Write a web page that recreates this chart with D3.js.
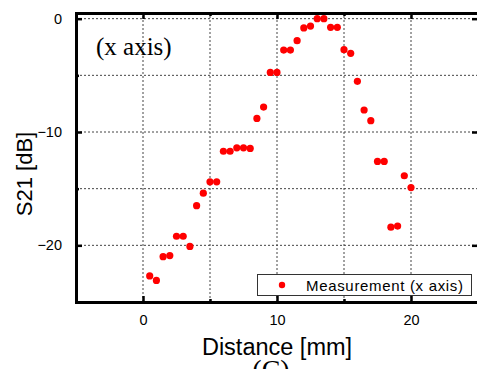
<!DOCTYPE html>
<html>
<head>
<meta charset="utf-8">
<script src="https://cdn.jsdelivr.net/npm/d3@7"></script>
<style>
  html, body { margin: 0; padding: 0; background: white; }
  svg { display: block; }
</style>
</head>
<body>
<script>
// data
var distance = [0.5, 1, 1.5, 2, 2.5, 3, 3.5, 4, 4.5, 5,
                5.5, 6, 6.5, 7, 7.5, 8, 8.5, 9, 9.5, 10,
                10.5, 11, 11.5, 12, 12.5, 13, 13.5, 14, 14.5, 15,
                15.5, 16, 16.5, 17, 17.5, 18, 18.5, 19, 19.5, 20];
var s21 = [-22.7, -23.1, -21.0, -20.9, -19.2, -19.2, -20.1, -16.5, -15.4, -14.4,
           -14.4, -11.7, -11.7, -11.4, -11.4, -11.45, -8.8, -7.8, -4.74, -4.74,
           -2.77, -2.77, -1.94, -0.82, -0.65, 0, 0, -0.76, -0.76, -2.74,
           -3.06, -5.53, -8.06, -9.0, -12.6, -12.6, -18.4, -18.3, -13.86, -14.9];
var xMajor = [0, 10, 20];
var xMinor = [-5, 5, 15, 25];
var yMajor = [0, -10, -20];
var yMinor = [-5, -15, -25];
var xGrid = [0, 5, 10, 15, 20];
var yGrid = [0, -5, -10, -15, -20];

var dot_color, axis_color, grid_color;

function graphConfig()
{
    /// CONFIG VARIABLES ///
    dot_color = "#ff0000";
    axis_color = "black";
    grid_color = "#444";
    //// END OF CONFIG ////
}

function createGraph()
{
    var svgWidth = 477, svgHeight = 369;
    var svg = d3.select("body").append("svg")
        .attr("width", svgWidth)
        .attr("height", svgHeight);

    var x = d3.scaleLinear().domain([-5, 25]).range([76, 478]);
    var y = d3.scaleLinear().domain([-25, 0.5]).range([302, 13]);

    // dotted grid
    svg.append("g").selectAll("line").data(xGrid).enter().append("line")
        .attr("x1", function (d) { return x(d); })
        .attr("x2", function (d) { return x(d); })
        .attr("y1", y(-25)).attr("y2", y(0.5))
        .attr("stroke", grid_color)
        .attr("stroke-width", 1)
        .attr("stroke-dasharray", "2,2");
    svg.append("g").selectAll("line").data(yGrid).enter().append("line")
        .attr("y1", function (d) { return y(d); })
        .attr("y2", function (d) { return y(d); })
        .attr("x1", x(-5)).attr("x2", x(25))
        .attr("stroke", grid_color)
        .attr("stroke-width", 1)
        .attr("stroke-dasharray", "2,2");

    // axes, ticks point inward
    var bottom = svg.append("g")
        .attr("transform", "translate(0," + y(-25) + ")")
        .call(d3.axisBottom(x).tickValues(xMajor).tickSize(-6).tickPadding(14).tickFormat(d3.format("d")));
    svg.append("g")
        .attr("transform", "translate(0," + y(-25) + ")")
        .call(d3.axisBottom(x).tickValues(xMinor).tickSize(-3).tickFormat(""));
    svg.append("g")
        .attr("transform", "translate(0," + y(0.5) + ")")
        .call(d3.axisTop(x).tickValues(xMajor).tickSize(-6).tickFormat(""));
    svg.append("g")
        .attr("transform", "translate(0," + y(0.5) + ")")
        .call(d3.axisTop(x).tickValues(xMinor).tickSize(-3).tickFormat(""));
    var left = svg.append("g")
        .attr("transform", "translate(" + x(-5) + ",0)")
        .call(d3.axisLeft(y).tickValues(yMajor).tickSize(-6).tickPadding(14).tickFormat(d3.format("d")));
    svg.append("g")
        .attr("transform", "translate(" + x(-5) + ",0)")
        .call(d3.axisLeft(y).tickValues(yMinor).tickSize(-3).tickFormat(""));
    svg.append("g")
        .attr("transform", "translate(" + x(25) + ",0)")
        .call(d3.axisRight(y).tickValues(yMajor).tickSize(-6).tickFormat(""));

    svg.selectAll(".domain").attr("stroke", axis_color).attr("stroke-width", 3);
    svg.selectAll(".tick line").attr("stroke", axis_color).attr("stroke-width", 2.5);
    svg.selectAll(".tick text")
        .attr("fill", "black")
        .style("font-family", "Liberation Sans, Arial, sans-serif")
        .style("font-size", "14.5px");
    bottom.selectAll(".tick text").attr("dy", "0.6em");

    // points
    var pts = distance.map(function (d, i) { return {x: d, y: s21[i]}; });
    svg.append("g").selectAll("circle").data(pts).enter().append("circle")
        .attr("cx", function (d) { return x(d.x); })
        .attr("cy", function (d) { return y(d.y); })
        .attr("r", 3.6)
        .attr("fill", dot_color);

    // annotation
    svg.append("text")
        .attr("x", 96).attr("y", 55)
        .style("font-family", "Liberation Serif, Times New Roman, serif")
        .style("font-size", "25px")
        .text("(x axis)");

    // legend
    var lg = svg.append("g");
    lg.append("rect")
        .attr("x", 257.5).attr("y", 274.5)
        .attr("width", 214).attr("height", 21)
        .attr("fill", "white")
        .attr("stroke", "#333")
        .attr("stroke-width", 1);
    lg.append("circle")
        .attr("cx", 282).attr("cy", 285)
        .attr("r", 3.2)
        .attr("fill", dot_color);
    lg.append("text")
        .attr("x", 306).attr("y", 290.5)
        .style("font-family", "Liberation Sans, Arial, sans-serif")
        .style("font-size", "15px")
        .attr("textLength", 157)
        .text("Measurement (x axis)");

    // axis titles
    svg.append("text")
        .attr("x", 277).attr("y", 355)
        .attr("text-anchor", "middle")
        .style("font-family", "Liberation Sans, Arial, sans-serif")
        .style("font-size", "23.5px")
        .text("Distance [mm]");
    svg.append("text")
        .attr("transform", "translate(32,174) rotate(-90)")
        .attr("text-anchor", "middle")
        .style("font-family", "Liberation Sans, Arial, sans-serif")
        .style("font-size", "22px")
        .text("S21 [dB]");

    // panel label, cut off at the bottom like the source
    svg.append("text")
        .attr("x", 271).attr("y", 379)
        .attr("text-anchor", "middle")
        .style("font-family", "Liberation Serif, Times New Roman, serif")
        .style("font-size", "28px")
        .text("(C)");
}

graphConfig();
createGraph();
</script>
</body>
</html>
